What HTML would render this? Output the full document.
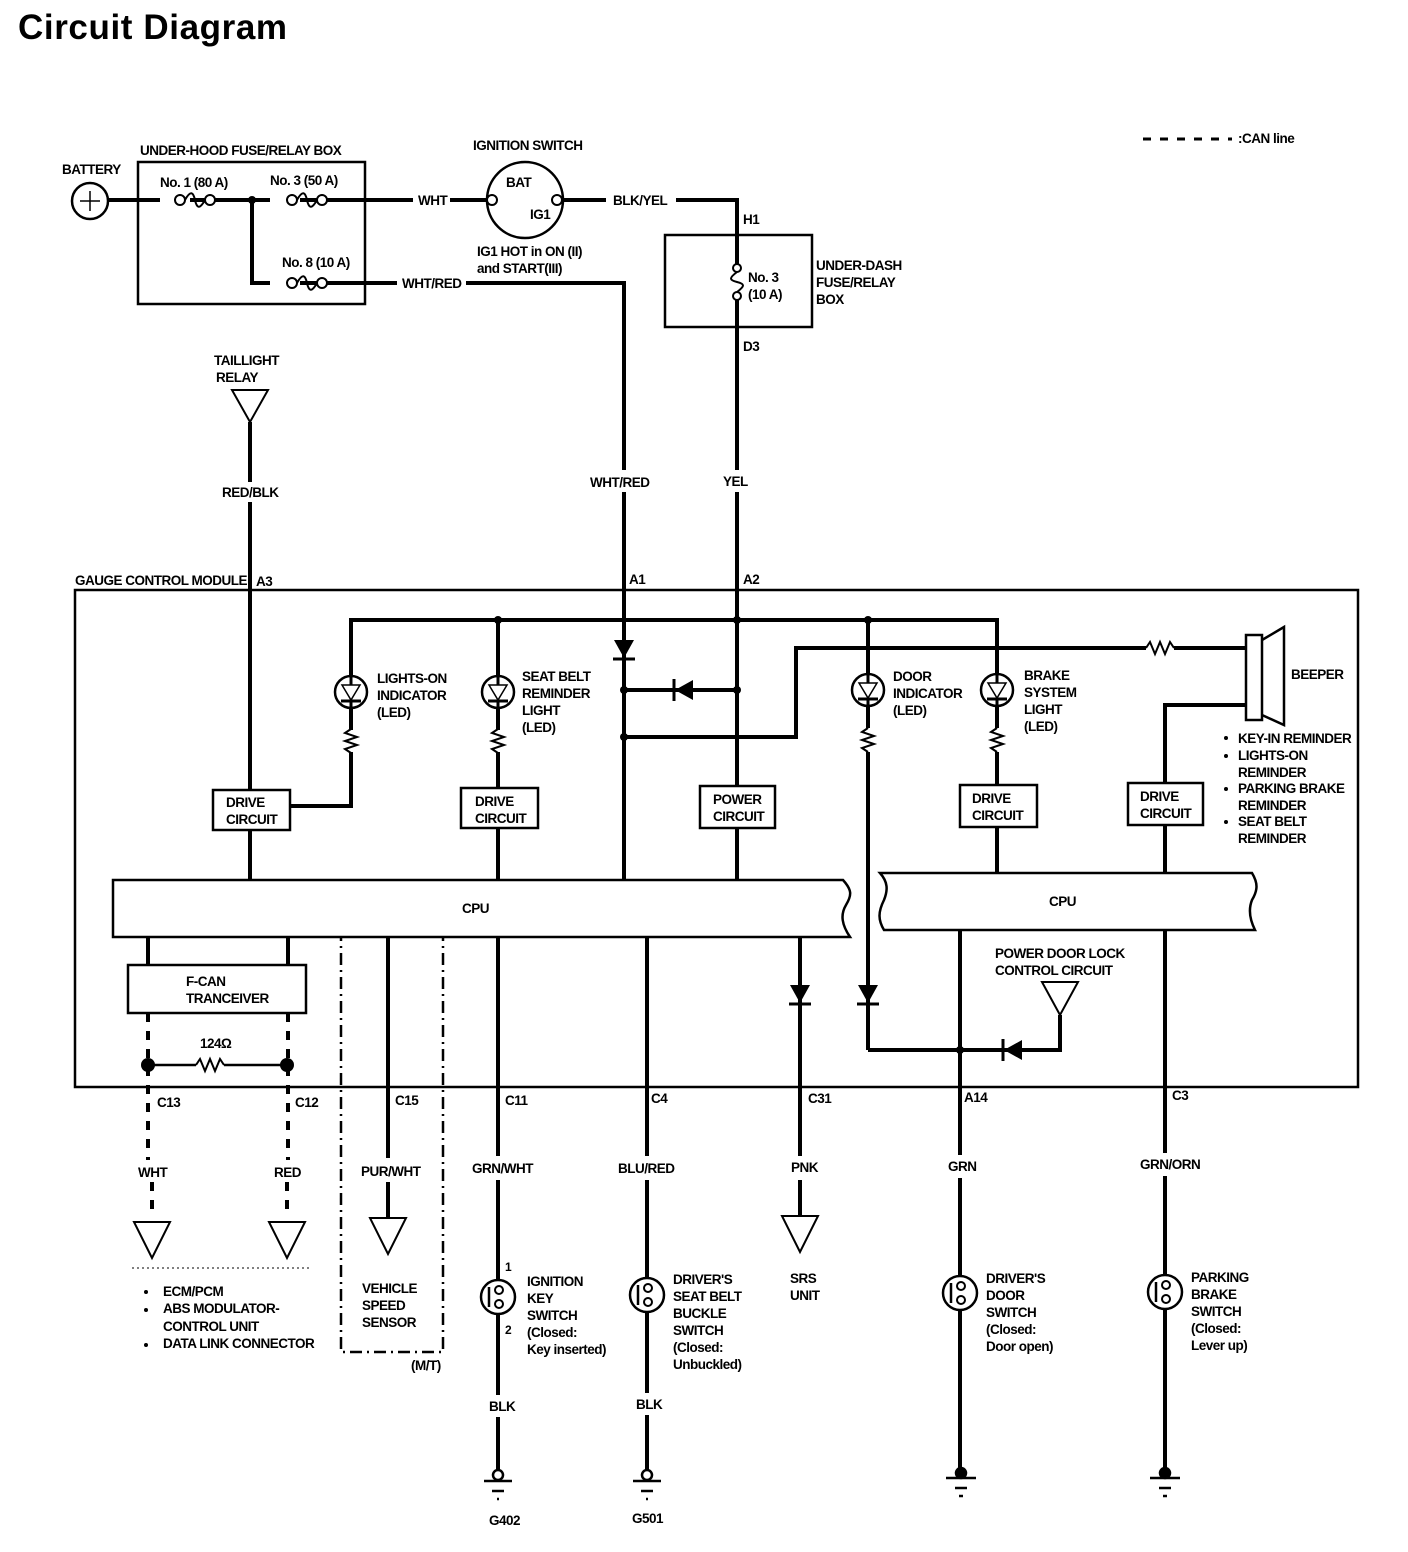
<!DOCTYPE html>
<html><head><meta charset="utf-8"><style>
html,body{margin:0;padding:0;background:#fff}
svg{display:block}
text{font-family:"Liberation Sans Narrow","Liberation Sans",sans-serif;font-weight:bold;font-size:13.5px;letter-spacing:-0.5px;fill:#000}
</style></head><body>
<svg width="1408" height="1552" viewBox="0 0 1408 1552" xmlns="http://www.w3.org/2000/svg">
<defs>
<g id="fuseH"><circle cx="-15" cy="0" r="5" fill="#fff" stroke="#000" stroke-width="2"/><circle cx="15" cy="0" r="5" fill="#fff" stroke="#000" stroke-width="2"/><path d="M-10,0 C-5,-9 -2,-9 0,0 C2,9 5,9 10,0" fill="none" stroke="#000" stroke-width="2"/></g>
<g id="resV"><path d="M0,-12 L-6,-8 L6,-4 L-6,0 L6,4 L-6,8 L0,12" fill="none" stroke="#000" stroke-width="2"/></g>
<g id="resH"><path d="M-14,0 L-10,-6 L-5,6 L0,-6 L5,6 L10,-6 L14,0" fill="none" stroke="#000" stroke-width="2"/></g>
<g id="led"><circle r="16" fill="#fff" stroke="#000" stroke-width="2.5"/><path d="M-9,-7 L9,-7 L0,8 Z" fill="none" stroke="#000" stroke-width="1.5"/><line x1="0" y1="-16" x2="0" y2="-7" stroke="#000" stroke-width="3"/><line x1="-10" y1="9" x2="10" y2="9" stroke="#000" stroke-width="3"/><line x1="0" y1="9" x2="0" y2="16" stroke="#000" stroke-width="3"/></g>
<g id="diodeD"><path d="M-10,-10 L10,-10 L0,8 Z" fill="#000"/><line x1="-11" y1="9" x2="11" y2="9" stroke="#000" stroke-width="3"/></g>
<g id="tri"><path d="M-18,0 L18,0 L0,36 Z" fill="#fff" stroke="#000" stroke-width="2"/></g>
<g id="sw"><circle r="17" fill="#fff" stroke="#000" stroke-width="2.5"/><line x1="-9" y1="-10" x2="-9" y2="10" stroke="#000" stroke-width="2.5"/><circle cx="1" cy="-7" r="4" fill="#fff" stroke="#000" stroke-width="2"/><circle cx="1" cy="7" r="4" fill="#fff" stroke="#000" stroke-width="2"/></g>
</defs>

<text x="18" y="39" style="font-family:'Liberation Sans',sans-serif;font-size:35px;letter-spacing:0.6px">Circuit Diagram</text>

<line x1="1143" y1="139" x2="1232" y2="139" stroke="#000" stroke-width="3" stroke-dasharray="8,9"/>
<text x="1238" y="143">:CAN line</text>

<g stroke="#000" fill="none" stroke-width="4">
<line x1="108" y1="200" x2="160" y2="200"/>
<line x1="190" y1="200" x2="270" y2="200"/>
<line x1="300" y1="200" x2="413" y2="200"/>
<line x1="450" y1="200" x2="487" y2="200"/>
<polyline points="252,200 252,283 270,283"/>
<line x1="300" y1="283" x2="397" y2="283"/>
<polyline points="466,283 624,283 624,470"/>
<line x1="624" y1="492" x2="624" y2="880"/>
<line x1="562" y1="200" x2="606" y2="200"/>
<polyline points="676,200 737,200 737,264"/>
<line x1="737" y1="300" x2="737" y2="470"/>
<line x1="737" y1="492" x2="737" y2="880"/>
<line x1="250" y1="422" x2="250" y2="482"/>
<line x1="250" y1="502" x2="250" y2="790"/>
<line x1="250" y1="830" x2="250" y2="880"/>
<polyline points="351,676 351,620 997,620 997,674"/>
<line x1="498" y1="620" x2="498" y2="676"/>
<line x1="868" y1="620" x2="868" y2="674"/>
<line x1="351" y1="708" x2="351" y2="730"/>
<polyline points="351,752 351,806 290,806"/>
<line x1="498" y1="708" x2="498" y2="730"/>
<line x1="498" y1="752" x2="498" y2="788"/>
<line x1="498" y1="828" x2="498" y2="880"/>
<line x1="624" y1="690" x2="737" y2="690"/>
<polyline points="624,737 796,737 796,648 1146,648"/>
<line x1="1174" y1="648" x2="1246" y2="648"/>
<line x1="868" y1="706" x2="868" y2="728"/>
<line x1="868" y1="752" x2="868" y2="1050"/>
<polyline points="868,1050 1060,1050 1060,1015"/>
<line x1="997" y1="706" x2="997" y2="728"/>
<line x1="997" y1="752" x2="997" y2="785"/>
<line x1="997" y1="827" x2="997" y2="873"/>
<polyline points="1246,705 1165,705 1165,783"/>
<line x1="1165" y1="825" x2="1165" y2="873"/>
<line x1="737" y1="828" x2="737" y2="880" stroke-width="3"/>
<line x1="148" y1="937" x2="148" y2="965"/>
<line x1="288" y1="937" x2="288" y2="965"/>
<line x1="388" y1="937" x2="388" y2="1158"/>
<line x1="388" y1="1182" x2="388" y2="1218"/>
<line x1="498" y1="937" x2="498" y2="1156"/>
<line x1="498" y1="1180" x2="498" y2="1280"/>
<line x1="498" y1="1314" x2="498" y2="1395"/>
<line x1="498" y1="1417" x2="498" y2="1470"/>
<line x1="647" y1="937" x2="647" y2="1156"/>
<line x1="647" y1="1180" x2="647" y2="1278"/>
<line x1="647" y1="1312" x2="647" y2="1393"/>
<line x1="647" y1="1415" x2="647" y2="1470"/>
<line x1="800" y1="937" x2="800" y2="1156"/>
<line x1="800" y1="1180" x2="800" y2="1216"/>
<line x1="960" y1="930" x2="960" y2="1155"/>
<line x1="960" y1="1178" x2="960" y2="1276"/>
<line x1="960" y1="1310" x2="960" y2="1470"/>
<line x1="1165" y1="930" x2="1165" y2="1153"/>
<line x1="1165" y1="1176" x2="1165" y2="1275"/>
<line x1="1165" y1="1309" x2="1165" y2="1470"/>
</g>
<line x1="153" y1="1065" x2="196" y2="1065" stroke="#000" stroke-width="2.5"/>
<line x1="224" y1="1065" x2="283" y2="1065" stroke="#000" stroke-width="2.5"/>
<use href="#resH" x="210" y="1065"/>

<g stroke="#000" stroke-width="4" stroke-dasharray="9,9">
<line x1="148" y1="1013" x2="148" y2="1160"/>
<line x1="288" y1="1013" x2="288" y2="1160"/>
<line x1="152" y1="1182" x2="152" y2="1218"/>
<line x1="287" y1="1182" x2="287" y2="1218"/>
</g>
<circle cx="148" cy="1065" r="7"/><circle cx="287" cy="1065" r="7"/>
<rect x="341" y="911" width="102" height="441" fill="none" stroke="#000" stroke-width="2.5" stroke-dasharray="12,5,2,5"/>

<circle cx="90" cy="201" r="18" fill="#fff" stroke="#000" stroke-width="2.5"/>
<path d="M80,201 H100 M90,191 V211" stroke="#000" stroke-width="1.5"/>
<text x="62" y="174">BATTERY</text>
<rect x="138" y="162" width="227" height="142" fill="none" stroke="#000" stroke-width="2.5"/>
<text x="140" y="155">UNDER-HOOD FUSE/RELAY BOX</text>
<use href="#fuseH" x="195" y="200"/><use href="#fuseH" x="307" y="200"/><use href="#fuseH" x="307" y="283"/>
<circle cx="252" cy="200" r="4"/>
<text x="160" y="187">No. 1 (80 A)</text>
<text x="270" y="185">No. 3 (50 A)</text>
<text x="282" y="267">No. 8 (10 A)</text>
<text x="418" y="205">WHT</text>
<text x="402" y="288">WHT/RED</text>
<circle cx="525" cy="200" r="38" fill="#fff" stroke="#000" stroke-width="2.5"/>
<circle cx="492" cy="200" r="5" fill="#fff" stroke="#000" stroke-width="2"/>
<circle cx="557" cy="200" r="5" fill="#fff" stroke="#000" stroke-width="2"/>
<text x="506" y="187">BAT</text><text x="530" y="219">IG1</text>
<text x="473" y="150">IGNITION SWITCH</text>
<text x="477" y="256">IG1 HOT in ON (II)</text>
<text x="477" y="273">and START(III)</text>
<text x="613" y="205">BLK/YEL</text>
<rect x="665" y="235" width="147" height="92" fill="none" stroke="#000" stroke-width="2.5"/>
<circle cx="737" cy="268" r="4" fill="#fff" stroke="#000" stroke-width="2"/>
<circle cx="737" cy="296" r="4" fill="#fff" stroke="#000" stroke-width="2"/>
<path d="M737,272 C729,278 729,280 737,282 C745,284 745,286 737,292" fill="none" stroke="#000" stroke-width="2"/>
<text x="743" y="224">H1</text><text x="743" y="351">D3</text>
<text x="748" y="282">No. 3</text><text x="748" y="299">(10 A)</text>
<text x="816" y="270">UNDER-DASH</text><text x="816" y="287">FUSE/RELAY</text><text x="816" y="304">BOX</text>
<path d="M232,390 L268,390 L250,422 Z" fill="#fff" stroke="#000" stroke-width="2"/>
<text x="214" y="365">TAILLIGHT</text><text x="216" y="382">RELAY</text>
<text x="222" y="497">RED/BLK</text>
<text x="590" y="487">WHT/RED</text>
<text x="723" y="486">YEL</text>

<rect x="75" y="590" width="1283" height="497" fill="none" stroke="#000" stroke-width="2.5"/>
<text x="75" y="585">GAUGE CONTROL MODULE</text>
<text x="256" y="586">A3</text><text x="629" y="584">A1</text><text x="743" y="584">A2</text>
<g fill="#000"><circle cx="498" cy="620" r="4"/><circle cx="737" cy="620" r="4"/><circle cx="868" cy="620" r="4"/>
<circle cx="624" cy="690" r="4"/><circle cx="737" cy="690" r="4"/><circle cx="624" cy="737" r="4"/><circle cx="960" cy="1050" r="4"/></g>
<use href="#led" x="351" y="692"/><use href="#led" x="498" y="692"/><use href="#led" x="868" y="690"/><use href="#led" x="997" y="690"/>
<use href="#resV" x="351" y="741"/><use href="#resV" x="498" y="741"/><use href="#resV" x="868" y="740"/><use href="#resV" x="997" y="740"/>
<use href="#resH" x="1160" y="648"/>
<use href="#diodeD" x="624" y="650"/>
<g transform="translate(683,690) rotate(90)"><use href="#diodeD"/></g>
<use href="#diodeD" x="800" y="995"/>
<use href="#diodeD" x="868" y="995"/>
<g transform="translate(1012,1050) rotate(90)"><use href="#diodeD"/></g>
<path d="M1042,982 L1078,982 L1060,1015 Z" fill="#fff" stroke="#000" stroke-width="2"/>
<text x="377" y="683">LIGHTS-ON</text><text x="377" y="700">INDICATOR</text><text x="377" y="717">(LED)</text>
<text x="522" y="681">SEAT BELT</text><text x="522" y="698">REMINDER</text><text x="522" y="715">LIGHT</text><text x="522" y="732">(LED)</text>
<text x="893" y="681">DOOR</text><text x="893" y="698">INDICATOR</text><text x="893" y="715">(LED)</text>
<text x="1024" y="680">BRAKE</text><text x="1024" y="697">SYSTEM</text><text x="1024" y="714">LIGHT</text><text x="1024" y="731">(LED)</text>
<g fill="#fff" stroke="#000" stroke-width="2.5">
<rect x="213" y="790" width="77" height="40"/><rect x="461" y="788" width="77" height="40"/>
<rect x="700" y="786" width="75" height="42"/><rect x="960" y="785" width="77" height="42"/>
<rect x="1128" y="783" width="75" height="42"/>
<rect x="128" y="965" width="178" height="48"/>
</g>
<text x="226" y="807">DRIVE</text><text x="226" y="824">CIRCUIT</text>
<text x="475" y="806">DRIVE</text><text x="475" y="823">CIRCUIT</text>
<text x="713" y="804">POWER</text><text x="713" y="821">CIRCUIT</text>
<text x="972" y="803">DRIVE</text><text x="972" y="820">CIRCUIT</text>
<text x="1140" y="801">DRIVE</text><text x="1140" y="818">CIRCUIT</text>
<text x="186" y="986">F-CAN</text><text x="186" y="1003">TRANCEIVER</text>
<text x="200" y="1048">124Ω</text>
<rect x="1246" y="635" width="16" height="85" fill="#fff" stroke="#000" stroke-width="2.5"/>
<path d="M1262,640 L1284,627 L1284,725 L1262,715" fill="none" stroke="#000" stroke-width="2.5"/>
<text x="1291" y="679">BEEPER</text>
<g><circle cx="1226" cy="738" r="2"/><circle cx="1226" cy="756" r="2"/><circle cx="1226" cy="789" r="2"/><circle cx="1226" cy="822" r="2"/></g>
<text x="1238" y="743">KEY-IN REMINDER</text><text x="1238" y="760">LIGHTS-ON</text><text x="1238" y="777">REMINDER</text>
<text x="1238" y="793">PARKING BRAKE</text><text x="1238" y="810">REMINDER</text><text x="1238" y="826">SEAT BELT</text><text x="1238" y="843">REMINDER</text>
<path d="M113,880 L843,880 C852,890 852,895 846,905 C840,915 842,925 850,937 L113,937 Z" fill="#fff" stroke="#000" stroke-width="2.5"/>
<text x="462" y="913">CPU</text>
<path d="M884,873 L1252,873 C1258,883 1258,890 1252,900 C1248,910 1250,920 1255,930 L884,930 C878,920 878,912 884,900 C888,890 888,882 880,873 Z" fill="#fff" stroke="#000" stroke-width="2.5"/>
<text x="1049" y="906">CPU</text>
<text x="995" y="958">POWER DOOR LOCK</text><text x="995" y="975">CONTROL CIRCUIT</text>
<text x="157" y="1107">C13</text><text x="295" y="1107">C12</text><text x="395" y="1105">C15</text>
<text x="505" y="1105">C11</text><text x="651" y="1103">C4</text><text x="808" y="1103">C31</text>
<text x="964" y="1102">A14</text><text x="1172" y="1100">C3</text>
<text x="138" y="1177">WHT</text><text x="274" y="1177">RED</text><text x="361" y="1176">PUR/WHT</text>
<text x="472" y="1173">GRN/WHT</text><text x="618" y="1173">BLU/RED</text><text x="791" y="1172">PNK</text>
<text x="948" y="1171">GRN</text><text x="1140" y="1169">GRN/ORN</text>
<use href="#tri" x="152" y="1222"/><use href="#tri" x="287" y="1222"/><use href="#tri" x="388" y="1218"/><use href="#tri" x="800" y="1216"/>
<line x1="132" y1="1268" x2="310" y2="1268" stroke="#000" stroke-width="1" stroke-dasharray="2,3"/>
<circle cx="146" cy="1292" r="2"/><circle cx="146" cy="1310" r="2"/><circle cx="146" cy="1345" r="2"/>
<text x="163" y="1296">ECM/PCM</text><text x="163" y="1313">ABS MODULATOR-</text><text x="163" y="1331">CONTROL UNIT</text><text x="163" y="1348">DATA LINK CONNECTOR</text>
<text x="362" y="1293">VEHICLE</text><text x="362" y="1310">SPEED</text><text x="362" y="1327">SENSOR</text>
<text x="411" y="1370">(M/T)</text>
<text x="790" y="1283">SRS</text><text x="790" y="1300">UNIT</text>
<use href="#sw" x="498" y="1297"/><use href="#sw" x="647" y="1295"/><use href="#sw" x="960" y="1293"/><use href="#sw" x="1165" y="1292"/>
<text x="505" y="1271" style="font-size:12px">1</text><text x="505" y="1334" style="font-size:12px">2</text>
<text x="527" y="1286">IGNITION</text><text x="527" y="1303">KEY</text><text x="527" y="1320">SWITCH</text><text x="527" y="1337">(Closed:</text><text x="527" y="1354">Key inserted)</text>
<text x="673" y="1284">DRIVER'S</text><text x="673" y="1301">SEAT BELT</text><text x="673" y="1318">BUCKLE</text><text x="673" y="1335">SWITCH</text><text x="673" y="1352">(Closed:</text><text x="673" y="1369">Unbuckled)</text>
<text x="986" y="1283">DRIVER'S</text><text x="986" y="1300">DOOR</text><text x="986" y="1317">SWITCH</text><text x="986" y="1334">(Closed:</text><text x="986" y="1351">Door open)</text>
<text x="1191" y="1282">PARKING</text><text x="1191" y="1299">BRAKE</text><text x="1191" y="1316">SWITCH</text><text x="1191" y="1333">(Closed:</text><text x="1191" y="1350">Lever up)</text>
<text x="489" y="1411">BLK</text><text x="636" y="1409">BLK</text>
<g stroke="#000" stroke-width="2.5">
<circle cx="498" cy="1475" r="5" fill="#fff"/><line x1="484" y1="1481" x2="512" y2="1481"/><line x1="492" y1="1491" x2="504" y2="1491"/><line x1="497" y1="1499" x2="499" y2="1499"/>
<circle cx="647" cy="1475" r="5" fill="#fff"/><line x1="633" y1="1481" x2="661" y2="1481"/><line x1="641" y1="1491" x2="653" y2="1491"/><line x1="646" y1="1499" x2="648" y2="1499"/>
<circle cx="961" cy="1473" r="5" fill="#000"/><line x1="946" y1="1478" x2="976" y2="1478"/><line x1="955" y1="1488" x2="967" y2="1488"/><line x1="959" y1="1496" x2="963" y2="1496"/>
<circle cx="1165" cy="1473" r="5" fill="#000"/><line x1="1150" y1="1478" x2="1180" y2="1478"/><line x1="1159" y1="1488" x2="1171" y2="1488"/><line x1="1163" y1="1496" x2="1167" y2="1496"/>
</g>
<text x="489" y="1525">G402</text><text x="632" y="1523">G501</text>
</svg>
</body></html>
